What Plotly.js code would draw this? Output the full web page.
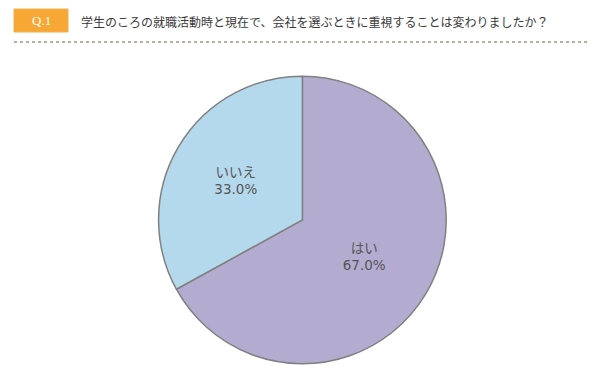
<!DOCTYPE html>
<html><head><meta charset="utf-8">
<script src="https://cdn.plot.ly/plotly-3.0.1.min.js"></script>
<style>html,body{margin:0;padding:0;background:#fff}#c{width:600px;height:375px}</style>
</head><body><div id="c"></div>
<script>
const labels = ["はい", "いいえ"];
const values = [67.0, 33.0];
const colors = ["#b3acd0", "#b4d8ec"];
const question = "学生のころの就職活動時と現在で、会社を選ぶときに重視することは変わりましたか？";
const qLabel = "Q.1";

const trace = {
  type: "pie",
  labels: labels,
  values: values,
  sort: false,
  direction: "clockwise",
  rotation: 0,
  marker: {colors: colors, line: {color: "#808080", width: 1.5}},
  texttemplate: "%{label}<br>%{percent:.1%}",
  textposition: "inside",
  insidetextorientation: "horizontal",
  textfont: {family: "DejaVu Sans, Noto Sans CJK JP, sans-serif", size: 13.5, color: "#555555"},
  hoverinfo: "none",
  showlegend: false,
  domain: {x: [0.263, 0.745], y: [0.03, 0.797]}
};

const layout = {
  width: 600, height: 375,
  margin: {l: 0, r: 0, t: 0, b: 0},
  paper_bgcolor: "#ffffff",
  showlegend: false,
  shapes: [
    {type: "rect", xref: "paper", yref: "paper", x0: 14/600, x1: 68/600, y0: 1-32/375, y1: 1-9/375,
     fillcolor: "#f7a733", line: {color: "#f0b050", width: 1}},
    {type: "line", xref: "paper", yref: "paper", x0: 14/600, x1: 590/600, y0: 1-42/375, y1: 1-42/375,
     line: {color: "#a89282", width: 1.5, dash: "dot"}}
  ],
  annotations: [
    {xref: "paper", yref: "paper", x: 41/600, y: 1-20.5/375, text: qLabel, showarrow: false,
     font: {family: "Liberation Serif, serif", size: 13, color: "#ffffff"}, xanchor: "center", yanchor: "middle"},
    {xref: "paper", yref: "paper", x: 79/600, y: 1-21/375, text: question, showarrow: false,
     font: {family: "Noto Sans CJK JP, sans-serif", size: 12, color: "#3a3a3a"}, xanchor: "left", yanchor: "middle"}
  ]
};

Plotly.newPlot("c", [trace], layout, {displayModeBar: false, staticPlot: true});
</script>
</body></html>
